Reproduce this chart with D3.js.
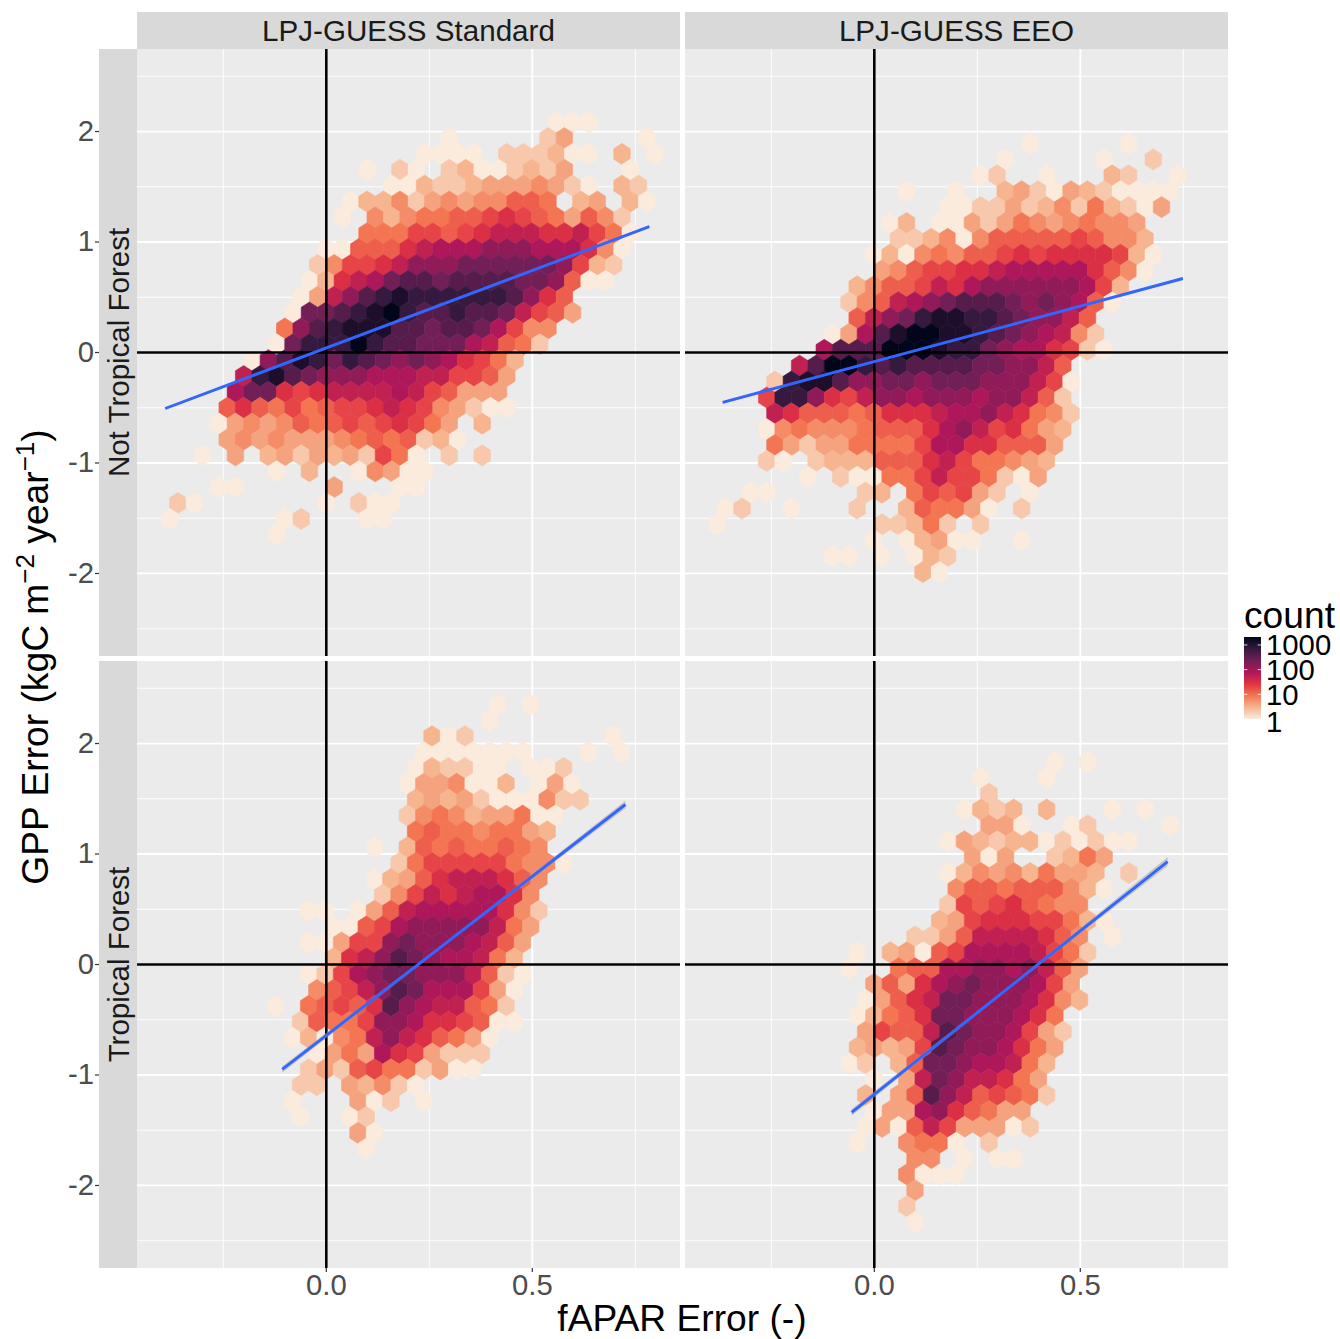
<!DOCTYPE html>
<html>
<head>
<meta charset="utf-8">
<script src="https://cdn.jsdelivr.net/npm/d3@7"></script>
<style>
body { margin: 0; background: #fff; }
text { font-family: "Liberation Sans", Arial, sans-serif; }
</style>
</head>
<body>
<svg id="chart"></svg>
<script>
// facet labels
const columnLabels = ['LPJ-GUESS Standard', 'LPJ-GUESS EEO'];
const rowLabels = ['Not Tropical Forest', 'Tropical Forest'];

// axis ticks
const xTicks = [0, 0.5];
const xMinorTicks = [-0.25, 0.25, 0.75];
const yTicks = [-2, -1, 0, 1, 2];
const yMinorTicks = [-2.5, -1.5, -0.5, 0.5, 1.5, 2.5];
const legendTicks = [1, 10, 100, 1000];

// hexagon size in data units
const binX = 0.03993;
const binY = 0.1436;

// one character per hexagon, an index into countLevels ('.' = empty bin)
const levelCodes = '0123456789abcdefg';
const countLevels = [1, 2, 3, 4, 6, 9, 13, 20, 31, 53, 78, 133, 228, 390, 700, 1200, 2100];

// [hex row, first hex column, counts]
const standardOther = [
  [-3, 24, '000'],
  [-2, 18, '0.....13....0'],
  [-1, 16, '0000.111200.2.0'],
  [0, 13, '0.10.12001213...0'],
  [1, 14, '0021123334310.21'],
  [2, 12, '0224134344665.23.20'],
  [3, 11, '0.4245566787653641'],
  [4, 13, '55577678999889750'],
  [5, 10, '0066689aaabbbaaa840'],
  [6, 10, '147789bbbccccccb721'],
  [7, 9, '0289acddcddddccb600'],
  [8, 9, '039bdefeeeeeedb86'],
  [9, 8, '0ccdefgeddeddc9763'],
  [10, 8, '5bdefffddcddca744'],
  [11, 7, '0ceeegeddccca9651'],
  [12, 6, '0bdfecedcbcba8752'],
  [13, 5, '9efdcbbbaaa997763'],
  [14, 5, 'acc8789999a976333'],
  [15, 4, '686575677898743100'],
  [16, 4, '034346567678753.2'],
  [17, 4, '343433345656120'],
  [18, 3, '0.3.2313231750.1.1'],
  [19, 7, '0.2..04300'],
  [20, 4, '00.....3...00'],
  [21, 1, '10.......0.100'],
  [22, 1, '0......01...00'],
  [23, 7, '0']
];

const eeoOther = [
  [-3, 19, '0.....0'],
  [-2, 18, '0.....0..1'],
  [-1, 16, '01..0...21..0'],
  [0, 12, '0..0..23103210000'],
  [1, 14, '00113124152103'],
  [2, 11, '02.0031354345443'],
  [3, 11, '1124046666676442'],
  [4, 10, '020454667878888720'],
  [5, 10, '34677889aaaaa8640'],
  [6, 9, '2466798abbbbbba72'],
  [7, 8, '1469abcdddcbcba60'],
  [8, 9, '69bceffeedcbb96'],
  [9, 7, '03adfggffedcba941'],
  [10, 7, 'adddgggfeecbaa8710'],
  [11, 5, '9dggededdddccbb96'],
  [12, 4, '1effdbbccbcccbbb970'],
  [13, 3, '7eeb879bbabbbabb961'],
  [14, 4, '98666568889aab98541'],
  [15, 3, '04544456668ab978532'],
  [16, 4, '5313355557aa886663'],
  [17, 3, '10.122266689755432'],
  [18, 6, '0.1005579775103'],
  [19, 2, '00.....12.576731.0'],
  [20, 1, '01..0...1..265530.1'],
  [21, 0, '0.........11251.1'],
  [22, 10, '0.02300..0'],
  [23, 7, '00.0.021'],
  [24, 13, '20']
];

const standardTropical = [
  [-2, 14, '0.0'],
  [-1, 13, '0'],
  [0, 10, '201........0'],
  [1, 9, '0000000...0.0'],
  [2, 9, '021100.001'],
  [3, 8, '0334002.030'],
  [4, 9, '23231000411'],
  [5, 8, '1454233500'],
  [6, 9, '565545532'],
  [7, 6, '0.265655654'],
  [8, 8, '15777775440'],
  [9, 6, '02368999864'],
  [10, 7, '147989aa84'],
  [11, 2, '00.0369aaaaa841'],
  [12, 4, '0067abbbbb953'],
  [13, 2, '00377bcbbba963'],
  [14, 4, '289bdcbaa952'],
  [15, 2, '017abccbbb9610'],
  [16, 3, '4679bdcaaa730'],
  [17, 0, '0.56768dba99651'],
  [18, 2, '16557bba887600'],
  [19, 1, '020459b986530'],
  [20, 3, '0353a873111'],
  [21, 2, '13167551300'],
  [22, 2, '11.32410'],
  [23, 1, '0...301.0'],
  [24, 2, '0..01'],
  [25, 5, '30'],
  [26, 6, '0']
];

const eeoTropical = [
  [-1, 12, '0.0'],
  [0, 8, '0...0'],
  [1, 8, '1'],
  [2, 7, '0212.2...0.0'],
  [3, 8, '330..01....0'],
  [4, 6, '032122010100'],
  [5, 7, '303..1253'],
  [6, 6, '0243425332.1'],
  [7, 6, '4665666420'],
  [8, 6, '176786544'],
  [9, 5, '23788877520'],
  [10, 4, '11369999864.0'],
  [11, 0, '0.23067aaaa9751'],
  [12, 0, '0..566aabbab963'],
  [13, 1, '3638abcbbba73'],
  [14, 1, '03689ccbbba842'],
  [15, 0, '02568ccbbba85'],
  [16, 1, '37669dcbba731'],
  [17, 0, '23237dcbba853'],
  [18, 0, '01.26ccbaa952'],
  [19, 1, '0.39cb99853'],
  [20, 1, '2.36db967651'],
  [21, 1, '033ab86533'],
  [22, 1, '03069733301'],
  [23, 0, '0..4550.1'],
  [24, 4, '44.0.00'],
  [25, 3, '4000'],
  [26, 4, '3'],
  [27, 3, '1'],
  [28, 4, '0']
];

// where hex row 0, column 0 sits in each panel
const gridOrigins = [[-0.42027, 1.6534], [-0.40097, 1.4597], [-0.14272, 2.0661], [-0.06092, 1.6896]];

// fitted lines: [x1, y1, x2, y2]
const fitLines = [[-0.391, -0.507, 0.784, 1.14], [-0.368, -0.452, 0.749, 0.67], [-0.107, -0.95, 0.726, 1.448], [-0.055, -1.339, 0.712, 0.932]];
// half width of the confidence band at start, middle and end of each fit
const fitBands = [[0.012, 0.004, 0.012], [0.012, 0.004, 0.012], [0.03, 0.012, 0.035], [0.03, 0.012, 0.04]];

const panelSeries = [standardOther, eeoOther, standardTropical, eeoTropical];

const rocket = ['#faebdd', '#f6b48f', '#f37651', '#e13342', '#ad1759', '#701f57', '#35193e', '#03051a'];

const width = 1340, height = 1339;
const panelW = 543, panelH = 607;
const panelLefts = [137, 685];
const panelTops = [49, 661];

const svg = d3.select('#chart').attr('width', width).attr('height', height);

const x = d3.scaleLinear().domain([-0.4595, 0.8585]).range([0, panelW]);
const y = d3.scaleLinear().domain([-2.747, 2.747]).range([panelH, 0]);
const logCount = d3.scaleLog().domain([1, 2100]).range([0, 1]);
const rocketRamp = d3.piecewise(d3.interpolateRgb, rocket);
const color = d => rocketRamp(logCount(d));

const hexLine = d3.line().x(d => x(d[0])).y(d => y(d[1]));
const hexCorners = [[0, 2 / 3], [0.5, 1 / 3], [0.5, -1 / 3], [0, -2 / 3], [-0.5, -1 / 3], [-0.5, 1 / 3]];

function hexData(rows, origin) {
  const out = [];
  rows.forEach(([row, first, codes]) => {
    Array.from(codes).forEach((c, i) => {
      if (c === '.') return;
      out.push({
        x: origin[0] + (first + i + (row & 1 ? 0.5 : 0)) * binX,
        y: origin[1] - row * binY,
        count: countLevels[levelCodes.indexOf(c)]
      });
    });
  });
  return out;
}

panelSeries.forEach((rows, p) => {
  const col = p % 2, row = Math.floor(p / 2);
  const g = svg.append('g').attr('transform', `translate(${panelLefts[col]},${panelTops[row]})`);

  g.append('rect').attr('width', panelW).attr('height', panelH).attr('fill', '#ebebeb');

  g.selectAll('line.xminor').data(xMinorTicks).join('line').attr('class', 'xminor')
    .attr('x1', d => x(d)).attr('x2', d => x(d)).attr('y1', 0).attr('y2', panelH)
    .attr('stroke', '#fff').attr('stroke-width', 0.9);
  g.selectAll('line.yminor').data(yMinorTicks).join('line').attr('class', 'yminor')
    .attr('y1', d => y(d)).attr('y2', d => y(d)).attr('x1', 0).attr('x2', panelW)
    .attr('stroke', '#fff').attr('stroke-width', 0.9);
  g.selectAll('line.xmajor').data(xTicks).join('line').attr('class', 'xmajor')
    .attr('x1', d => x(d)).attr('x2', d => x(d)).attr('y1', 0).attr('y2', panelH)
    .attr('stroke', '#fff').attr('stroke-width', 1.8);
  g.selectAll('line.ymajor').data(yTicks).join('line').attr('class', 'ymajor')
    .attr('y1', d => y(d)).attr('y2', d => y(d)).attr('x1', 0).attr('x2', panelW)
    .attr('stroke', '#fff').attr('stroke-width', 1.8);

  g.selectAll('path.hex').data(hexData(rows, gridOrigins[p])).join('path').attr('class', 'hex')
    .attr('d', d => hexLine(hexCorners.map(c => [d.x + c[0] * binX, d.y + c[1] * binY])) + 'Z')
    .attr('fill', d => color(d.count))
    .attr('stroke', d => color(d.count)).attr('stroke-width', 0.6);

  g.append('line').attr('x1', x(0)).attr('x2', x(0)).attr('y1', 0).attr('y2', panelH)
    .attr('stroke', '#000').attr('stroke-width', 2.6);
  g.append('line').attr('y1', y(0)).attr('y2', y(0)).attr('x1', 0).attr('x2', panelW)
    .attr('stroke', '#000').attr('stroke-width', 2.6);

  const f = fitLines[p], b = fitBands[p];
  const xm = (f[0] + f[2]) / 2, ym = (f[1] + f[3]) / 2;
  const band = d3.area().x(d => x(d[0])).y0(d => y(d[1] - d[2])).y1(d => y(d[1] + d[2]));
  g.append('path').attr('d', band([[f[0], f[1], b[0]], [xm, ym, b[1]], [f[2], f[3], b[2]]]))
    .attr('fill', '#999').attr('fill-opacity', 0.45);
  g.append('line').attr('x1', x(f[0])).attr('y1', y(f[1])).attr('x2', x(f[2])).attr('y2', y(f[3]))
    .attr('stroke', '#3366ff').attr('stroke-width', 2.9);

  // axes only on the outer edge
  if (row === 1) {
    const ax = g.append('g').attr('transform', `translate(0,${panelH})`)
      .call(d3.axisBottom(x).offset(0).tickValues(xTicks).tickSize(4).tickPadding(2).tickFormat(d3.format('.1f')));
    styleAxis(ax);
  }
});

rowLabels.forEach((label, r) => {
  svg.append('rect').attr('x', 99).attr('y', panelTops[r]).attr('width', 38).attr('height', panelH).attr('fill', '#d9d9d9');
  svg.append('text').attr('transform', `translate(118.5,${panelTops[r] + panelH / 2}) rotate(-90)`)
    .attr('text-anchor', 'middle').attr('dominant-baseline', 'central')
    .attr('font-size', 29.5).attr('fill', '#1a1a1a').text(label);
  const ay = svg.append('g').attr('transform', `translate(99,${panelTops[r]})`)
    .call(d3.axisLeft(y).offset(0).tickValues(yTicks).tickSize(4).tickPadding(1).tickFormat(d => String(d)));
  styleAxis(ay);
});

columnLabels.forEach((label, c) => {
  svg.append('rect').attr('x', panelLefts[c]).attr('y', 12).attr('width', panelW).attr('height', 37).attr('fill', '#d9d9d9');
  svg.append('text').attr('x', panelLefts[c] + panelW / 2).attr('y', 30)
    .attr('text-anchor', 'middle').attr('dominant-baseline', 'central')
    .attr('font-size', 29.6).attr('fill', '#1a1a1a').text(label);
});

function styleAxis(sel) {
  sel.select('.domain').remove();
  sel.selectAll('.tick line').attr('stroke', '#333').attr('stroke-width', 1.2);
  sel.selectAll('.tick text').attr('fill', '#4d4d4d').attr('font-size', 29.3)
    .attr('font-family', '"Liberation Sans", Arial, sans-serif');
}

// axis titles
svg.append('text').attr('x', 682).attr('y', 1331).attr('text-anchor', 'middle')
  .attr('font-size', 37.2).attr('fill', '#000').text('fAPAR Error (-)');

const yTitle = svg.append('text').attr('transform', 'translate(48,657) rotate(-90)')
  .attr('text-anchor', 'middle').attr('font-size', 37.2).attr('fill', '#000');
yTitle.append('tspan').text('GPP Error (kgC m');
yTitle.append('tspan').attr('font-size', 26).attr('dy', -14).text('\u22122');
yTitle.append('tspan').attr('dy', 14).text(' year');
yTitle.append('tspan').attr('font-size', 26).attr('dy', -14).text('\u22121');
yTitle.append('tspan').attr('dy', 14).text(')');

// legend
const legendY = d3.scaleLog().domain([1, 2100]).range([719, 637]);
const defs = svg.append('defs');
const grad = defs.append('linearGradient').attr('id', 'countRamp').attr('x1', 0).attr('x2', 0).attr('y1', 1).attr('y2', 0);
rocket.forEach((c, i) => grad.append('stop').attr('offset', i / (rocket.length - 1)).attr('stop-color', c));

svg.append('text').attr('x', 1244).attr('y', 628).attr('font-size', 37.2).attr('fill', '#000').text('count');
svg.append('rect').attr('x', 1244).attr('y', 637).attr('width', 17).attr('height', 82).attr('fill', 'url(#countRamp)');
svg.selectAll('line.legtick').data(legendTicks).join('line').attr('class', 'legtick')
  .attr('y1', d => legendY(d)).attr('y2', d => legendY(d)).attr('stroke', '#fff').attr('stroke-width', 0.8)
  .attr('x1', 1244).attr('x2', 1247.4);
svg.selectAll('line.legtick2').data(legendTicks).join('line').attr('class', 'legtick2')
  .attr('y1', d => legendY(d)).attr('y2', d => legendY(d)).attr('stroke', '#fff').attr('stroke-width', 0.8)
  .attr('x1', 1257.6).attr('x2', 1261);
svg.selectAll('text.leglabel').data(legendTicks).join('text').attr('class', 'leglabel')
  .attr('x', 1266).attr('y', d => legendY(d) + (d === 1 ? 2 : 0)).attr('dominant-baseline', 'central')
  .attr('font-size', 29.3).attr('fill', '#000').text(d => d);
</script>
</body>
</html>
